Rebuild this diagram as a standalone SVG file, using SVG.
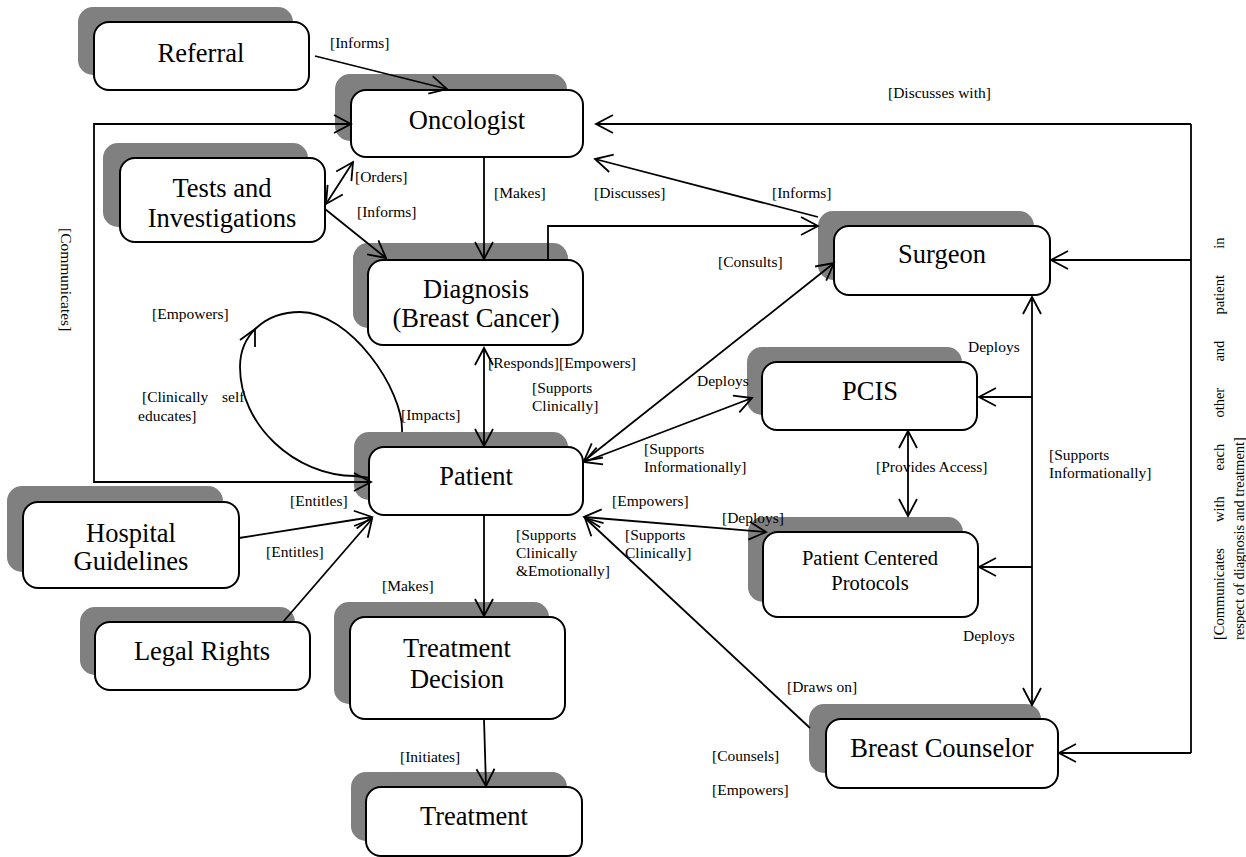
<svg xmlns="http://www.w3.org/2000/svg" width="1246" height="857" viewBox="0 0 1246 857">
<style>
.sh{fill:#808080;stroke:none}
.bx{fill:#fff;stroke:#000;stroke-width:2}
.nt{font-family:"Liberation Serif","Times New Roman",serif;font-size:26.5px;text-anchor:middle;fill:#000}
.nt2{font-family:"Liberation Serif","Times New Roman",serif;font-size:20.5px;text-anchor:middle;fill:#000}
.lb{font-family:"Liberation Serif","Times New Roman",serif;font-size:15.5px;fill:#000}
.lr{font-family:"Liberation Serif","Times New Roman",serif;font-size:14.5px;fill:#000}
.ln{fill:none;stroke:#000;stroke-width:1.8}
</style>
<defs>
<marker id="ah" markerUnits="userSpaceOnUse" markerWidth="22" markerHeight="22" viewBox="-2 -2 22 22" refX="17" refY="9" orient="auto-start-reverse">
<path d="M0,0 L17,9 L0,18" fill="none" stroke="#000" stroke-width="1.8"/>
</marker>
</defs>
<rect width="1246" height="857" fill="#fff"/>

<g id="referral"><rect class="sh" x="78" y="7" width="215" height="68" rx="15"/><rect class="bx" x="94" y="22" width="215" height="68" rx="15"/><text class="nt" x="201" y="62">Referral</text></g>
<g id="oncologist"><rect class="sh" x="335" y="74" width="232" height="67" rx="15"/><rect class="bx" x="351" y="90" width="232" height="67" rx="15"/><text class="nt" x="467" y="129">Oncologist</text></g>
<g id="tests"><rect class="sh" x="103" y="143" width="205" height="84" rx="15"/><rect class="bx" x="120" y="158" width="205" height="84" rx="15"/><text class="nt" x="222" y="197">Tests and</text><text class="nt" x="222" y="227">Investigations</text></g>
<g id="diagnosis"><rect class="sh" x="353" y="243" width="215" height="85" rx="15"/><rect class="bx" x="368" y="260" width="215" height="85" rx="15"/><text class="nt" x="476" y="298">Diagnosis</text><text class="nt" x="476" y="327">(Breast Cancer)</text></g>
<g id="surgeon"><rect class="sh" x="818" y="211" width="216" height="69" rx="15"/><rect class="bx" x="834" y="226" width="216" height="69" rx="15"/><text class="nt" x="942" y="263">Surgeon</text></g>
<g id="pcis"><rect class="sh" x="747" y="347" width="215" height="68" rx="15"/><rect class="bx" x="762" y="362" width="215" height="68" rx="15"/><text class="nt" x="870" y="400">PCIS</text></g>
<g id="protocols"><rect class="sh" x="748" y="517" width="215" height="85" rx="15"/><rect class="bx" x="763" y="532" width="215" height="85" rx="15"/><text class="nt2" x="870" y="565">Patient Centered</text><text class="nt2" x="870" y="590">Protocols</text></g>
<g id="patient"><rect class="sh" x="354" y="432" width="214" height="68" rx="15"/><rect class="bx" x="369" y="447" width="214" height="68" rx="15"/><text class="nt" x="476" y="485">Patient</text></g>
<g id="hospital"><rect class="sh" x="7" y="486" width="216" height="86" rx="15"/><rect class="bx" x="23" y="502" width="216" height="86" rx="15"/><text class="nt" x="131" y="542">Hospital</text><text class="nt" x="131" y="570">Guidelines</text></g>
<g id="legal"><rect class="sh" x="80" y="607" width="215" height="68" rx="15"/><rect class="bx" x="95" y="622" width="215" height="68" rx="15"/><text class="nt" x="202" y="660">Legal Rights</text></g>
<g id="decision"><rect class="sh" x="334" y="602" width="215" height="102" rx="15"/><rect class="bx" x="350" y="617" width="215" height="102" rx="15"/><text class="nt" x="457" y="657">Treatment</text><text class="nt" x="457" y="688">Decision</text></g>
<g id="treatment"><rect class="sh" x="351" y="772" width="216" height="69" rx="15"/><rect class="bx" x="366" y="787" width="216" height="69" rx="15"/><text class="nt" x="474" y="825">Treatment</text></g>
<g id="counselor"><rect class="sh" x="809" y="704" width="232" height="69" rx="15"/><rect class="bx" x="826" y="719" width="232" height="69" rx="15"/><text class="nt" x="942" y="757">Breast Counselor</text></g>

<g id="connectors">
<path class="ln" d="M315,56 L447,89" marker-end="url(#ah)"/>
<path class="ln" d="M371,482 H94 V124 H351" marker-start="url(#ah)" marker-end="url(#ah)"/>
<path class="ln" d="M326,204 L353,162" marker-start="url(#ah)" marker-end="url(#ah)"/>
<path class="ln" d="M325,209 L386,258" marker-end="url(#ah)"/>
<path class="ln" d="M484,157 V259" marker-end="url(#ah)"/>
<path class="ln" d="M595,159 L818,217" marker-start="url(#ah)"/>
<path class="ln" d="M548,260 V226 H818" marker-end="url(#ah)"/>
<path class="ln" d="M584,461 L834,263" marker-start="url(#ah)" marker-end="url(#ah)"/>
<path class="ln" d="M584,462 L752,398" marker-start="url(#ah)" marker-end="url(#ah)"/>
<path class="ln" d="M484,348 V446" marker-start="url(#ah)" marker-end="url(#ah)"/>
<path class="ln" d="M402,432 C404,390 350,312 300,312 C265,312 240,335 240,367 C240,425 295,476 355,476 L370,478"/>
<polyline class="ln" points="240,340 255,329 255,347"/>
<path class="ln" d="M239,538 L372,517" marker-end="url(#ah)"/>
<path class="ln" d="M283,622 L372,519" marker-end="url(#ah)"/>
<path class="ln" d="M484,515 V616" marker-end="url(#ah)"/>
<path class="ln" d="M484,719 L486,786" marker-end="url(#ah)"/>
<path class="ln" d="M584,517 L766,532" marker-start="url(#ah)" marker-end="url(#ah)"/>
<path class="ln" d="M810,728 L585,518" marker-end="url(#ah)"/>
<path class="ln" d="M1032,297 V705" marker-start="url(#ah)" marker-end="url(#ah)"/>
<path class="ln" d="M1032,397 H979" marker-end="url(#ah)"/>
<path class="ln" d="M1032,567 H979" marker-end="url(#ah)"/>
<path class="ln" d="M908,431 V516" marker-start="url(#ah)" marker-end="url(#ah)"/>
<path class="ln" d="M1191,124 H596" marker-end="url(#ah)"/>
<path class="ln" d="M1191,124 V753"/>
<path class="ln" d="M1191,260 H1051" marker-end="url(#ah)"/>
<path class="ln" d="M1191,753 H1059" marker-end="url(#ah)"/>
</g>

<g id="labels">
<text class="lb" x="330" y="48">[Informs]</text>
<text class="lb" x="888" y="98">[Discusses with]</text>
<text class="lb" x="355" y="182">[Orders]</text>
<text class="lb" x="357" y="217">[Informs]</text>
<text class="lb" x="494" y="198">[Makes]</text>
<text class="lb" x="594" y="198">[Discusses]</text>
<text class="lb" x="772" y="198">[Informs]</text>
<text class="lb" x="718" y="267">[Consults]</text>
<text class="lb" transform="translate(61,228) rotate(90)">[Communicates]</text>
<text class="lb" x="152" y="319">[Empowers]</text>
<text class="lb" x="488" y="368" textLength="148" lengthAdjust="spacingAndGlyphs">[Responds][Empowers]</text>
<text class="lb" x="532" y="393">[Supports</text>
<text class="lb" x="532" y="411">Clinically]</text>
<text class="lb" x="697" y="386">Deploys</text>
<text class="lb" x="644" y="454">[Supports</text>
<text class="lb" x="644" y="472">Informationally]</text>
<text class="lb" x="142" y="402">[Clinically</text>
<text class="lb" x="222" y="402">self</text>
<text class="lb" x="138" y="421">educates]</text>
<text class="lb" x="401" y="420">[Impacts]</text>
<text class="lb" x="968" y="352">Deploys</text>
<text class="lb" x="876" y="472">[Provides Access]</text>
<text class="lb" x="1049" y="460">[Supports</text>
<text class="lb" x="1049" y="478">Informationally]</text>
<text class="lb" x="290" y="506">[Entitles]</text>
<text class="lb" x="266" y="557">[Entitles]</text>
<text class="lb" x="612" y="506">[Empowers]</text>
<text class="lb" x="722" y="523">[Deploys]</text>
<text class="lb" x="625" y="540">[Supports</text>
<text class="lb" x="625" y="558">Clinically]</text>
<text class="lb" x="516" y="540">[Supports</text>
<text class="lb" x="516" y="558">Clinically</text>
<text class="lb" x="516" y="576">&amp;Emotionally]</text>
<text class="lb" x="382" y="591">[Makes]</text>
<text class="lb" x="963" y="641">Deploys</text>
<text class="lb" x="787" y="692">[Draws on]</text>
<text class="lb" x="400" y="762">[Initiates]</text>
<text class="lb" x="712" y="761">[Counsels]</text>
<text class="lb" x="712" y="795">[Empowers]</text>
<g transform="translate(1224,640) rotate(-90)">
<text class="lr" y="0"><tspan x="0">[Communicates</tspan><tspan x="118">with</tspan><tspan x="169.6">each</tspan><tspan x="222.4">other</tspan><tspan x="278.4">and</tspan><tspan x="325.5">patient</tspan><tspan x="391.2">in</tspan></text>
<text class="lr" x="0" y="20">respect of diagnosis and treatment]</text>
</g>
</g>
</svg>
